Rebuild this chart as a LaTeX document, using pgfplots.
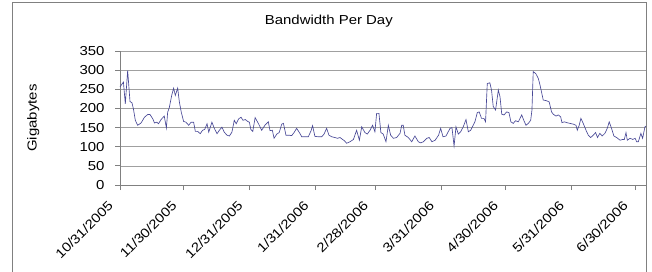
\documentclass[border=0pt]{standalone}
\usepackage{pgfplots}
\pgfplotsset{compat=1.18}
\usepackage{fontspec}
\setmainfont{Liberation Sans}[FakeStretch=1.15]
\definecolor{series}{RGB}{72,72,150}
\definecolor{gridc}{RGB}{160,160,160}
\definecolor{axc}{RGB}{128,128,128}
\begin{document}
\begin{tikzpicture}
\useasboundingbox (0,0) rectangle (652pt,271pt);
\draw[axc, line width=0.8pt] (12pt,-20pt) -- (12pt,269pt) -- (646pt,269pt) -- (646pt,-20pt);
\begin{axis}[
  at={(120pt,86pt)}, anchor=south west,
  scale only axis, width=526pt, height=134pt,
  xmin=0, xmax=247.2, ymin=0, ymax=350,
  ytick={0,50,...,350},
  xtick={0,30,61,92,120,151,181,212,242},
  xticklabels={10/31/2005,11/30/2005,12/31/2005,1/31/2006,2/28/2006,3/31/2006,4/30/2006,5/31/2006,6/30/2006},
  axis lines=left, axis line style={-, color=axc, line width=0.8pt},
  tick align=outside, major tick length=5pt,
  tick style={color=axc, line width=0.8pt},
  ymajorgrids, grid style={gridc, line width=0.7pt},
  /pgf/number format/assume math mode=true,
  tick label style={font=\fontsize{13}{15}\selectfont, text=black},
  yticklabel style={xshift=-7pt},
  xticklabel style={xshift=-7pt, yshift=-11pt, rotate=45, anchor=east},
  title={Bandwidth Per Day},
  title style={at={(axis description cs:0.397,1.179)}, anchor=center, yshift=0pt, font=\fontsize{13}{15}\selectfont},
  ylabel={Gigabytes},
  ylabel style={at={(axis description cs:-0.165,0.5)}, anchor=center, font=\fontsize{13}{15}\selectfont},
  clip=false,
]
\addplot[series, line width=0.65pt] coordinates {
(0,256) (1.6,269) (2.5,212) (3.6,299) (4.7,218) (5.6,215) (6.3,199) (7.2,169) (8.3,156) (9.9,162)
(11.5,177) (13,184) (14.1,184) (15.4,173) (16.2,162) (17.3,164) (18.1,160) (19.3,171) (20.8,180) (21.8,149)
(22.4,190) (23.2,203) (24.3,234) (25.2,253) (26,234) (27.1,253) (27.9,217) (28.8,190) (29.9,166) (31,164)
(32.3,156) (33.4,164) (34.6,164) (35.4,140) (36.5,140) (37.7,134) (38.8,143) (39.8,145) (40.9,160) (41.7,138)
(43.2,164) (44.4,147) (45.6,134) (46.7,143) (47.9,151) (49,138) (50.3,130) (51.4,128) (52.6,138) (53.7,169)
(54.6,160) (55.8,173) (56.9,177) (57.8,169) (58.9,171) (60,166) (60.8,164) (61.5,145) (62.4,140) (63.5,176)
(65,161) (66.6,143) (68.1,156) (69.7,165) (70.5,142) (71.6,143) (72.4,122) (73.7,133) (74.8,137) (76,159)
(76.8,161) (78,130) (79.5,130) (80.7,129) (81.8,137) (83,148) (84.3,137) (85.4,126) (86.9,126) (88.5,126)
(89.8,142) (90.5,155) (91.6,127) (93.2,126) (94.8,126) (95.9,133) (97.1,148) (98.2,130) (99.5,126) (101,124)
(102.2,122) (103.4,124) (104.6,119) (105.4,116) (106.5,109) (108.1,113) (109.7,119) (111.2,143) (112.5,117) (113.6,152)
(115.1,137) (116.2,133) (117.5,143) (118.7,156) (119.8,139) (120.6,187) (121.7,187) (122.6,137) (123.7,133) (125,113)
(126.1,156) (127.2,130) (128.5,122) (130,124) (131.6,135) (132.4,156) (133.1,156) (133.9,130) (135.5,124) (137.1,113)
(138.6,128) (140.2,113) (141.3,110) (142.6,113) (144.2,122) (145.3,124) (146.6,113) (148.1,117) (149.7,130) (150.7,148)
(151.8,126) (153.2,128) (155.1,148) (156,150) (157,102) (157.9,152) (159,133) (160.1,139) (161.3,152) (162.6,171)
(163.7,139) (164.8,143) (166,156) (166.8,165) (167.9,189) (168.8,191) (169.9,174) (171,174) (171.8,165) (172.6,265)
(173.8,267) (174.6,248) (175.4,205) (176.5,196) (177.8,248) (178.6,230) (179.4,185) (180.5,183) (181.7,191) (182.8,189)
(183.7,165) (184.8,161) (185.9,168) (187.2,165) (188.8,183) (189.6,171) (190.8,156) (191.9,161) (193,169) (193.6,196)
(194.2,296) (195.4,291) (196.6,278) (197.4,261) (198.9,222) (200.5,220) (201.7,217) (202.8,191) (203.6,185) (204.9,180)
(206,183) (207.1,178) (207.7,163) (208.8,165) (209.9,163) (211.4,161) (213,159) (214.3,156) (214.9,143) (215.8,156)
(216.6,174) (217.7,161) (219,143) (220.1,130) (221.2,124) (222.4,130) (223.5,137) (224.4,124) (225.5,135) (226.6,128)
(227.9,135) (229,148) (229.9,165) (231,148) (232.1,128) (233.4,124) (235,117) (236.2,119) (237,119) (237.8,137)
(238.4,117) (239.7,122) (241,119) (242.1,122) (242.8,113) (243.6,113) (244.8,135) (245.6,122) (246.7,152) (247.2,154)
};
\end{axis}
\end{tikzpicture}
\end{document}
